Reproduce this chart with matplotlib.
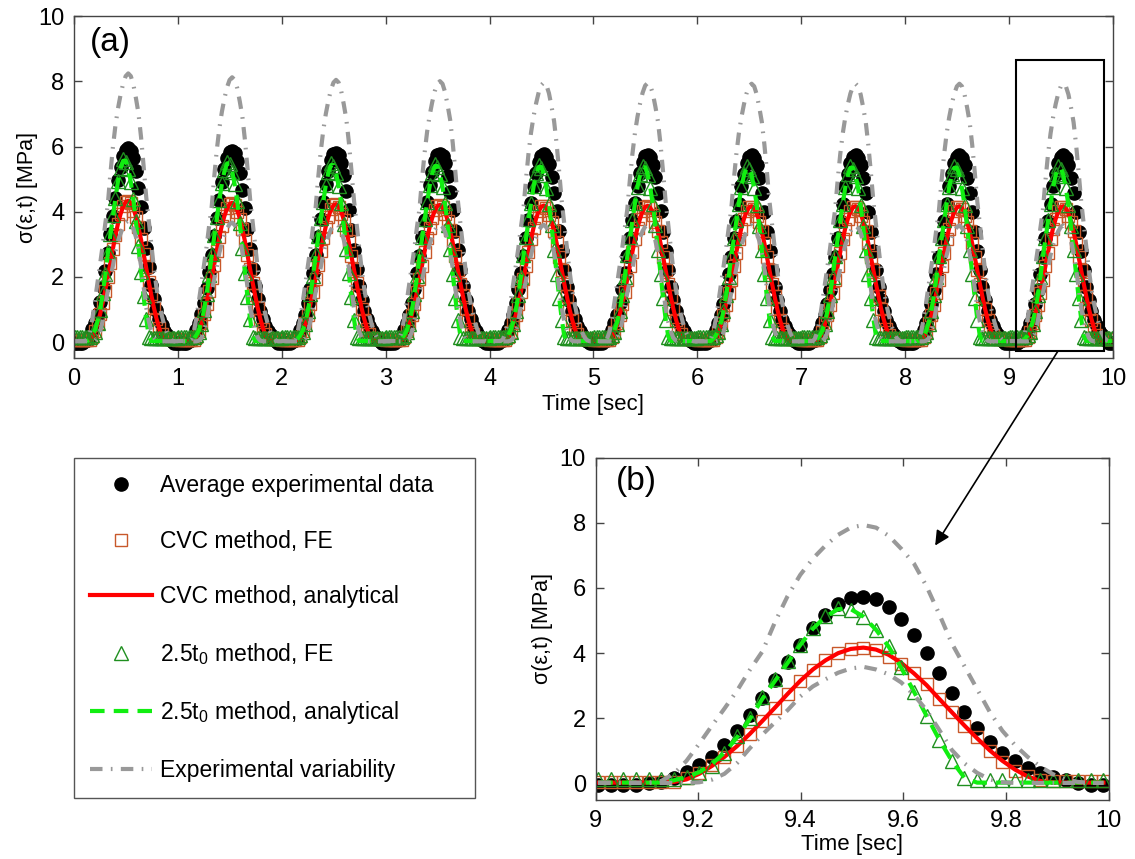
"""
Stress response under cyclic loading: (a) 10 cycles, (b) zoom on last cycle.
"""

import numpy as np
import matplotlib
matplotlib.use("Agg")
import matplotlib.pyplot as plt
from matplotlib.patches import Rectangle, ConnectionPatch

plt.rcParams["font.family"] = ["Liberation Sans", "DejaVu Sans"]
plt.rcParams["mathtext.fontset"] = "custom"
plt.rcParams["mathtext.rm"] = "Liberation Sans"
plt.rcParams["mathtext.it"] = "Liberation Sans"

# --- data: one cycle, 41 samples per second ---
T0 = 9.0
CYCLE_T = np.linspace(0.005, 0.990, 41)   # sample times within a cycle [s]

avg_exp = [-0.03, -0.03, -0.03, -0.03, 0.02, 0.06, 0.16, 0.37, 0.57, 0.83,
           1.18, 1.61, 2.10, 2.62, 3.18, 3.72, 4.25, 4.78, 5.17, 5.50,
           5.68, 5.73, 5.65, 5.43, 5.05, 4.56, 4.00, 3.38, 2.79, 2.20,
           1.69, 1.28, 0.94, 0.69, 0.49, 0.33, 0.21, 0.10, 0.03, -0.03,
           -0.03]
cvc_fe = [0.05, 0.05, 0.05, 0.05, 0.05, 0.05, 0.06, 0.16, 0.32, 0.57,
          0.83, 1.15, 1.52, 1.91, 2.32, 2.74, 3.16, 3.48, 3.78, 4.01,
          4.14, 4.16, 4.09, 3.88, 3.68, 3.40, 3.05, 2.60, 2.20, 1.77,
          1.42, 1.01, 0.67, 0.40, 0.23, 0.11, 0.08, 0.08, 0.08, 0.08,
          0.08]
cvc_an = [0.03, 0.03, 0.03, 0.03, 0.03, 0.03, 0.05, 0.13, 0.30, 0.54,
          0.82, 1.15, 1.52, 1.92, 2.33, 2.75, 3.15, 3.50, 3.78, 4.00,
          4.13, 4.17, 4.11, 3.95, 3.70, 3.38, 3.02, 2.60, 2.19, 1.78,
          1.39, 1.02, 0.70, 0.43, 0.22, 0.08, 0.04, 0.03, 0.03, 0.03,
          0.03]
t25_fe = [0.15, 0.15, 0.15, 0.15, 0.15, 0.15, 0.15, 0.20, 0.31, 0.55,
          0.95, 1.45, 2.00, 2.65, 3.20, 3.75, 4.25, 4.76, 5.15, 5.40,
          5.32, 5.10, 4.72, 4.22, 3.57, 2.82, 2.08, 1.35, 0.68, 0.16,
          0.12, 0.12, 0.12, 0.12, 0.12, 0.12, 0.12, 0.12, 0.12, 0.12,
          0.12]
t25_an = [0.03, 0.03, 0.03, 0.03, 0.03, 0.03, 0.10, 0.20, 0.35, 0.60,
          0.95, 1.42, 1.97, 2.60, 3.15, 3.70, 4.25, 4.75, 5.12, 5.35,
          5.35, 5.12, 4.72, 4.20, 3.55, 2.82, 2.08, 1.35, 0.70, 0.18,
          0.03, 0.03, 0.03, 0.03, 0.03, 0.03, 0.03, 0.03, 0.03, 0.03,
          0.03]
var_upper = [0.03, 0.03, 0.03, 0.03, 0.03, 0.08, 0.30, 0.70, 1.22, 1.77,
             2.30, 2.85, 3.48, 4.05, 4.95, 5.75, 6.40, 6.90, 7.30, 7.63,
             7.85, 7.93, 7.85, 7.60, 7.20, 6.75, 6.05, 5.20, 4.30, 3.60,
             2.90, 2.20, 1.62, 1.18, 0.82, 0.52, 0.29, 0.13, 0.05, 0.02,
             0.02]
var_lower = [0.02, 0.02, 0.02, 0.02, 0.02, 0.02, 0.02, 0.02, 0.04, 0.12,
             0.30, 0.63, 1.08, 1.50, 1.88, 2.25, 2.67, 2.98, 3.20, 3.40,
             3.53, 3.58, 3.50, 3.35, 3.10, 2.72, 2.25, 1.65, 1.03, 0.62,
             0.33, 0.13, 0.04, 0.02, 0.02, 0.02, 0.02, 0.02, 0.02, 0.02,
             0.02]

# peak of each of the 10 cycles in panel (a) relative to the last one
cycle_scale = [1.04, 1.025, 1.015, 1.01, 1.005, 1.003, 1.0, 1.0, 1.0, 1.0]

series = [
    ("Average experimental data", avg_exp,
     dict(ls="none", marker="o", ms=9.5, mfc="black", mec="black")),
    ("CVC method, FE", cvc_fe,
     dict(ls="none", marker="s", ms=8, mfc="none", mec="#c8582a", mew=1.0)),
    ("CVC method, analytical", cvc_an,
     dict(ls="-", lw=3, color="#ff0000")),
    (r"2.5t$_0$ method, FE", t25_fe,
     dict(ls="none", marker="^", ms=10, mfc="none", mec="#1f8f1f", mew=1.0)),
    (r"2.5t$_0$ method, analytical", t25_an,
     dict(ls=(0, (3.5, 2.2)), lw=3, color="#11ee11")),
    ("Experimental variability", var_upper,
     dict(ls=(0, (3, 2, 0.4, 2)), lw=3, color="#999999")),
]

# --- figure ---
fig = plt.figure(figsize=(11.35, 8.59), dpi=100)
ax_a = fig.add_axes([0.0652, 0.5829, 0.9154, 0.3981])
ax_b = fig.add_axes([0.5247, 0.0688, 0.4520, 0.3986])

scale = np.repeat(cycle_scale, len(CYCLE_T))
t_all = (np.arange(10)[:, None] + CYCLE_T[None, :]).ravel()

handles = []
for label, vals, style in series:
    y_all = np.tile(vals, 10) * scale
    ax_a.plot(t_all, y_all, **style)
    h, = ax_b.plot(T0 + CYCLE_T, vals, label=label, **style)
    handles.append(h)
    if label == "Experimental variability":
        ax_a.plot(t_all, np.tile(var_lower, 10) * scale, **style)
        ax_b.plot(T0 + CYCLE_T, var_lower, **style)

tick_font = 17
for ax in (ax_a, ax_b):
    ax.set_ylim(-0.5, 10)
    ax.set_yticks([0, 2, 4, 6, 8, 10])
    ax.tick_params(direction="in", top=True, right=True, length=6,
                   width=1, color="#444444", labelsize=tick_font, pad=7)
    for sp in ax.spines.values():
        sp.set_color("#444444")
        sp.set_linewidth(1.0)
    ax.set_xlabel("Time [sec]", fontsize=16)
    ax.set_ylabel("σ(ε,t) [MPa]", fontsize=15.5)

ax_a.set_xlim(0, 10)
ax_a.set_xticks(range(11))
ax_b.set_xlim(9, 10)
ax_b.set_xticks([9, 9.2, 9.4, 9.6, 9.8, 10])
ax_b.set_xticklabels(["9", "9.2", "9.4", "9.6", "9.8", "10"])

ax_a.yaxis.set_label_coords(-0.035, 0.5)
ax_b.yaxis.set_label_coords(-0.083, 0.5)
ax_a.xaxis.set_label_coords(0.5, -0.105)
ax_b.xaxis.set_label_coords(0.5, -0.10)

ax_a.text(0.15, 9.2, "(a)", fontsize=24, va="center", ha="left")
ax_b.text(9.04, 9.27, "(b)", fontsize=24, va="center", ha="left")

# zoom box and arrow
ax_a.add_patch(Rectangle((9.07, -0.28), 0.84, 8.94, fill=False,
                         edgecolor="black", lw=1.5, zorder=5))
arrow = ConnectionPatch(xyA=(9.47, -0.28), coordsA=ax_a.transData,
                        xyB=(9.662, 7.3), coordsB=ax_b.transData,
                        arrowstyle="-|>", mutation_scale=22, lw=1.2,
                        color="black")
fig.add_artist(arrow)

# legend box on the lower left
leg = fig.legend(handles=handles, loc="upper left",
                 bbox_to_anchor=(74 / 1135, 1 - 799 / 859, 401 / 1135, 341 / 859),
                 mode="expand", borderaxespad=0, fontsize=16.5,
                 handlelength=2.7, handletextpad=0.35, borderpad=0.7,
                 labelspacing=1.42, fancybox=False, framealpha=1)
leg.get_frame().set_edgecolor("#555555")
leg.get_frame().set_linewidth(1.0)

fig.savefig("out.png", dpi=100)
